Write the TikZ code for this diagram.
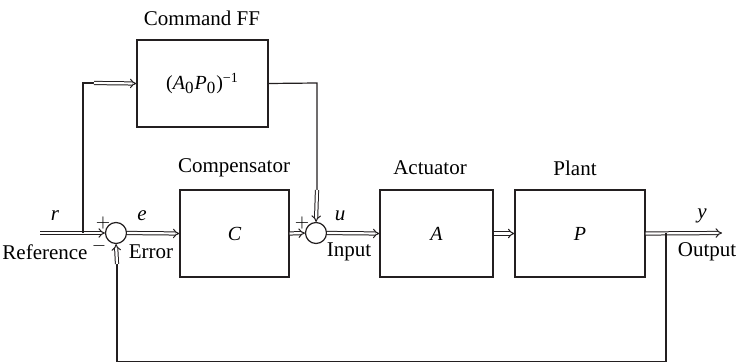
\documentclass[tikz,border=0pt]{standalone}
\usepackage{fontspec}
\setmainfont{Liberation Serif}
\usetikzlibrary{positioning,arrows.meta,calc}
\definecolor{cLine}{HTML}{231F20}
\tikzset{
  blk/.style={draw=cLine, line width=0.6pt, minimum height=43.5pt,
              inner sep=0pt, font=\itshape},
  sumnode/.style={draw=cLine, line width=0.6pt, circle, inner sep=0pt,
                  minimum size=10.5pt},
  vec/.style={draw=cLine, double, double distance=1.1pt, line width=0.5pt,
              -{Implies[scale=1.6]}},
  sig/.style={draw=cLine, line width=0.6pt},
  lbl/.style={font=\fontsize{10.5}{12}\selectfont, inner sep=0pt},
  sgn/.style={font=\fontsize{9}{10}\selectfont, inner sep=0pt},
}

\begin{document}
\begin{tikzpicture}[x=0.5pt, y=-0.5pt, lbl]
\useasboundingbox (0,0) rectangle (737,363);

% ========== BLOCKS ==========
\node[blk, minimum width=65.5pt] (ff) at (202.5,83.5)
  {\upshape(\textit{A}\textsubscript{\fontsize{8.5}{9}\selectfont 0}\textit{P}\textsubscript{\fontsize{8.5}{9}\selectfont 0})\textsuperscript{−1}};
\node[blk, minimum width=54.5pt] (comp) at (234.5,233.5) {C};
\node[blk, minimum width=56.5pt] (act)  at (436.5,233.5) {A};
\node[blk, minimum width=65pt]   (plant) at (580,233.5) {P};

\node[lbl] (ffT)    at (202,18)  {Command FF};
\node[lbl] (compT)  at (234,168) {Compensator};
\node[lbl] (actT)   at (430,168) {Actuator};
\node[lbl] (plantT) at (575,168) {Plant};

% ========== SUMMING JUNCTIONS ==========
\node[sumnode] (sum1) at (116,233) {};
\node[sumnode] (sum2) at (316,233) {};
\node[sgn] (p1) at (103,223) {$+$};
\node[sgn] (m1) at (99,246)  {$-$};
\node[sgn] (p2) at (302,223) {$+$};

% ========== SIGNAL POINTS ==========
\coordinate (refin) at (40,233);
\coordinate (tapL)  at (83,233);
\coordinate (ffup)  at (83,83);
\coordinate (ffin)  at (94,83);
\coordinate (ffout) at (317,83);
\coordinate (ffdn)  at (317,190);
\coordinate (yout)  at (722,233);
\coordinate (tapR)  at (666,233);
\coordinate (fbR)   at (666,361.5);
\coordinate (fbL)   at (117,361.5);
\coordinate (fbup)  at (117,264);

% ========== CONNECTORS ==========
\draw[vec] (refin) -- (sum1.west);
\draw[vec] (sum1.east) -- (comp.west);
\draw[vec] (comp.east) -- (sum2.west);
\draw[vec] (sum2.east) -- (act.west);
\draw[vec] (act.east) -- (plant.west);
\draw[vec] (plant.east) -- (yout);

% command feed-forward
\draw[sig] (tapL) -- (ffup) -- (ffin);
\draw[vec] (ffin) -- (ff.west);
\draw[sig] (ff.east) -- (ffout) -- (ffdn);
\draw[vec] (ffdn) -- (sum2.north);

% feedback
\draw[sig] (tapR) -- (fbR) -- (fbL) -- (fbup);
\draw[vec] (fbup) -- (sum1.south);

% ========== SIGNAL LABELS ==========
\node (rT)   at (55,216)  {\textit{r}};
\node (refT) at (45,252)  {Reference};
\node (eT)   at (142,216) {\textit{e}};
\node (errT) at (151,252) {Error};
\node (uT)   at (340,216) {\textit{u}};
\node (inT)  at (349,252) {Input};
\node (yT)   at (702,216) {\textit{y}};
\node (outT) at (707,252) {Output};

\end{tikzpicture}
\end{document}
